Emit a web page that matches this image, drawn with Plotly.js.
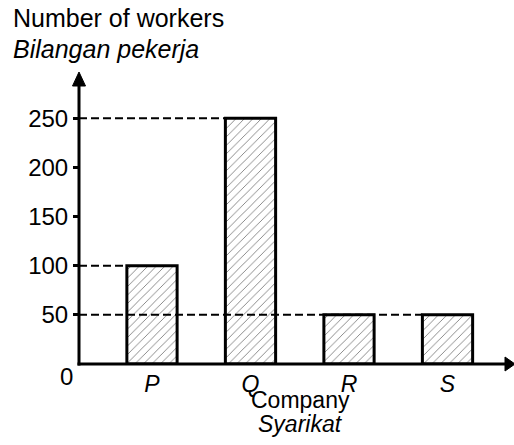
<!DOCTYPE html>
<html>
<head>
<meta charset="utf-8">
<script src="https://cdn.plot.ly/plotly-3.0.1.min.js"></script>
<style>html,body{margin:0;padding:0;background:#fff;}#chart{width:514px;height:445px;}</style>
</head>
<body>
<div id="chart"></div>
<script>
// ---- data ----
const categories = ['P', 'Q', 'R', 'S'];
const workers = [100, 250, 50, 50];
const yTickVals = [50, 100, 150, 200, 250];
const yTitleEn = 'Number of workers';
const yTitleMs = 'Bilangan pekerja';
const xTitleEn = 'Company';
const xTitleMs = 'Syarikat';

// ---- layout constants ----
const FONT = 'Liberation Sans, Arial, sans-serif';
const W = 514, H = 445;
const M = {l: 79, r: 0, t: 72, b: 81};
const pw = W - M.l - M.r, ph = H - M.t - M.b;
const xRange = [-0.741, 3.675];
const yRange = [0, 297];
const barWidth = 0.51;
const px = v => (v - M.l) / pw;      // pixel -> paper x
const py = v => (H - M.b - v) / ph;  // pixel -> paper y

// dashed reference lines: from y axis to left edge of the rightmost bar with that value
const shapes = [];
const seen = {};
workers.forEach((v, i) => { seen[v] = i; });
Object.keys(seen).forEach(k => {
  const v = +k, i = seen[k];
  shapes.push({type: 'line', xref: 'x', yref: 'y', x0: xRange[0], x1: i - barWidth / 2,
    y0: v, y1: v, line: {color: '#000', width: 2, dash: '8px,4px'}, layer: 'above'});
});
// axes (paper refs so they are not clipped)
shapes.push({type: 'line', xref: 'paper', yref: 'paper', x0: 0, x1: 0,
  y0: -1.5 / ph, y1: 1 - 10 / ph, line: {color: '#000', width: 3}, layer: 'above'});
shapes.push({type: 'line', xref: 'paper', yref: 'paper', x0: -1.5 / pw, x1: 1 - 6 / pw,
  y0: 0, y1: 0, line: {color: '#000', width: 3}, layer: 'above'});
// arrowheads
shapes.push({type: 'path', xref: 'paper', yref: 'paper', xsizemode: 'pixel', ysizemode: 'pixel',
  xanchor: 0, yanchor: 1, path: 'M -6.5 -14 L 0 0 L 6.5 -14 Z',
  fillcolor: '#000', line: {color: '#000', width: 1}, layer: 'above'});
shapes.push({type: 'path', xref: 'paper', yref: 'paper', xsizemode: 'pixel', ysizemode: 'pixel',
  xanchor: 1, yanchor: 0, path: 'M 1 0 L -9 7 L -9 -7 Z',
  fillcolor: '#000', line: {color: '#000', width: 1}, layer: 'above'});

const trace = {
  type: 'bar', x: categories, y: workers, width: barWidth,
  marker: {
    color: '#ffffff',
    line: {color: '#000', width: 3},
    pattern: {shape: '/', fgcolor: '#808080', bgcolor: '#ffffff', size: 6, solidity: 0.15}
  },
  hoverinfo: 'none'
};

const annotations = [
  {text: yTitleEn, xref: 'paper', yref: 'paper', x: px(11), y: py(18.4), xanchor: 'left', yanchor: 'middle',
    showarrow: false, font: {family: FONT, size: 25, color: '#000'}},
  {text: '<i>' + yTitleMs + '</i>', xref: 'paper', yref: 'paper', x: px(11), y: py(48.6), xanchor: 'left', yanchor: 'middle',
    showarrow: false, font: {family: FONT, size: 25, color: '#000'}},
  {text: xTitleEn, xref: 'paper', yref: 'paper', x: px(300), y: py(400), xanchor: 'center', yanchor: 'middle',
    showarrow: false, font: {family: FONT, size: 23, color: '#000'}},
  {text: '<i>' + xTitleMs + '</i>', xref: 'paper', yref: 'paper', x: px(300), y: py(424), xanchor: 'center', yanchor: 'middle',
    showarrow: false, font: {family: FONT, size: 23, color: '#000'}},
  {text: '0', xref: 'paper', yref: 'paper', x: px(66), y: py(376), xanchor: 'center', yanchor: 'middle',
    showarrow: false, font: {family: FONT, size: 24, color: '#000'}}
];

const layout = {
  width: W, height: H,
  margin: M,
  paper_bgcolor: '#fff', plot_bgcolor: '#fff',
  showlegend: false,
  font: {family: FONT, color: '#000'},
  xaxis: {
    type: 'category', range: xRange, showgrid: false, zeroline: false, showline: false,
    tickvals: categories, ticktext: categories.map(c => '<i>' + c + '</i>'),
    ticks: '', ticklabelstandoff: 4, tickfont: {family: FONT, size: 23, color: '#000'}, fixedrange: true
  },
  yaxis: {
    range: yRange, showgrid: false, zeroline: false, showline: false,
    tickvals: yTickVals, ticks: 'outside', ticklen: 5, tickwidth: 3, tickcolor: '#000',
    tickfont: {family: FONT, size: 24, color: '#000'}, fixedrange: true
  },
  shapes: shapes,
  annotations: annotations
};

Plotly.newPlot('chart', [trace], layout, {displayModeBar: false, staticPlot: true});
</script>
</body>
</html>
